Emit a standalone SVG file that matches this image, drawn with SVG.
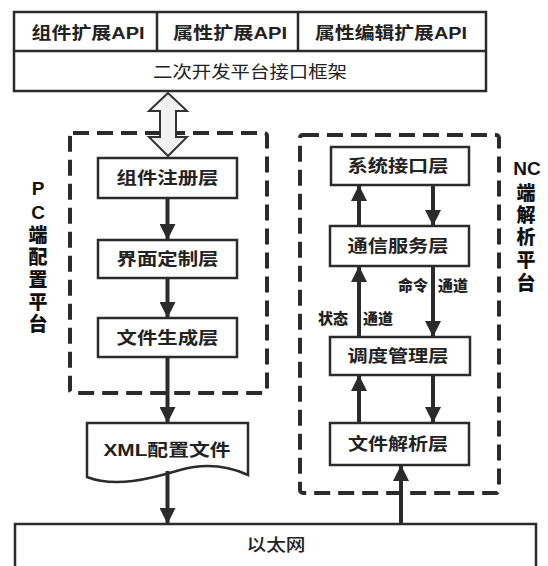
<svg xmlns="http://www.w3.org/2000/svg" width="548" height="566" viewBox="0 0 548 566">
<defs>
<style>
.box{fill:#fff;stroke:#2b2b2b;stroke-width:2.5}
.dash{fill:none;stroke:#2b2b2b;stroke-width:4;stroke-dasharray:16 8}
.ln{fill:none;stroke:#2b2b2b;stroke-width:4}
.t{font-family:"Liberation Sans","Noto Sans CJK SC",sans-serif;font-size:17px;fill:#222;text-anchor:middle;dominant-baseline:central}
.b{font-weight:bold}
.v{font-family:"Liberation Sans","Noto Sans CJK SC",sans-serif;font-size:19px;font-weight:900;fill:#111;text-anchor:middle;dominant-baseline:central}
.s{font-family:"Liberation Sans","Noto Sans CJK SC",sans-serif;font-size:15px;font-weight:900;fill:#222;dominant-baseline:central}
</style>
<marker id="ah" markerUnits="userSpaceOnUse" markerWidth="16" markerHeight="16" refX="16" refY="8" orient="auto">
<path d="M0,0 L16,8 L0,16 Z" fill="#2b2b2b"/>
</marker>
<linearGradient id="g" x1="0" y1="0" x2="1" y2="0">
<stop offset="0" stop-color="#ffffff"/>
<stop offset="0.5" stop-color="#efefef"/>
<stop offset="1" stop-color="#ffffff"/>
</linearGradient>
</defs>
<rect width="548" height="566" fill="#fff"/>

<g id="top-frame">
<rect class="box" x="14" y="12" width="472" height="79"/>
<line class="box" x1="14" y1="51" x2="486" y2="51"/>
<line class="box" x1="157" y1="12" x2="157" y2="51"/>
<line class="box" x1="298" y1="12" x2="298" y2="51"/>
<text class="t b" x="88" y="33" textLength="113" lengthAdjust="spacingAndGlyphs">组件扩展API</text>
<text class="t b" x="230" y="33" textLength="114" lengthAdjust="spacingAndGlyphs">属性扩展API</text>
<text class="t b" x="391" y="33" textLength="152" lengthAdjust="spacingAndGlyphs">属性编辑扩展API</text>
<text class="t" x="250" y="72" font-size="18" textLength="194" lengthAdjust="spacingAndGlyphs">二次开发平台接口框架</text>
</g>

<g id="pc-platform">
<rect class="dash" x="70" y="133" width="197" height="260" rx="3"/>
<g class="v">
<text x="38" y="188">P</text>
<text x="38" y="212">C</text>
<text x="38" y="235">端</text>
<text x="38" y="257">配</text>
<text x="38" y="280">置</text>
<text x="38" y="302">平</text>
<text x="38" y="324">台</text>
</g>
</g>

<g id="nc-platform">
<rect class="dash" x="300" y="135" width="199" height="358" rx="3"/>
<g class="v">
<text x="527" y="168">NC</text>
<text x="526" y="193">端</text>
<text x="526" y="215">解</text>
<text x="526" y="237">析</text>
<text x="526" y="260">平</text>
<text x="526" y="283">台</text>
</g>
</g>

<g id="n-zcc">
<rect class="box" x="98" y="158" width="139" height="40"/>
<text class="t b" x="167.5" y="178" textLength="102" lengthAdjust="spacingAndGlyphs">组件注册层</text>
</g>
<g id="n-jmdz">
<rect class="box" x="98" y="240" width="139" height="38"/>
<text class="t b" x="167.5" y="259" textLength="102" lengthAdjust="spacingAndGlyphs">界面定制层</text>
</g>
<g id="n-wjsc">
<rect class="box" x="98" y="318" width="139" height="39"/>
<text class="t b" x="167.5" y="338" textLength="102" lengthAdjust="spacingAndGlyphs">文件生成层</text>
</g>
<g id="n-xml">
<path class="box" d="M87,423 H248 V475 C228,466 205,463 180,470 C150,479 115,488 87,477 Z"/>
<text class="t b" x="167" y="450" textLength="127" lengthAdjust="spacingAndGlyphs">XML配置文件</text>
</g>

<g id="n-xtjk">
<rect class="box" x="331" y="147" width="138" height="38"/>
<text class="t b" x="398" y="166" textLength="101" lengthAdjust="spacingAndGlyphs">系统接口层</text>
</g>
<g id="n-txfw">
<rect class="box" x="330" y="226" width="139" height="40"/>
<text class="t b" x="398" y="246" textLength="101" lengthAdjust="spacingAndGlyphs">通信服务层</text>
</g>
<g id="n-ddgl">
<rect class="box" x="330" y="337" width="140" height="38"/>
<text class="t b" x="398" y="356" textLength="101" lengthAdjust="spacingAndGlyphs">调度管理层</text>
</g>
<g id="n-wjjx">
<rect class="box" x="330" y="423" width="139" height="42"/>
<text class="t b" x="398" y="444" textLength="100" lengthAdjust="spacingAndGlyphs">文件解析层</text>
</g>

<g id="n-eth">
<rect class="box" x="15" y="524" width="521" height="60"/>
<text class="t" x="276" y="545" font-size="18" font-weight="500" textLength="59" lengthAdjust="spacingAndGlyphs">以太网</text>
</g>

<g id="connectors">
<polygon points="168,93 187,111 176,111 176,137 187,137 168,156 149,137 160,137 160,111 149,111" fill="url(#g)" stroke="#333" stroke-width="2"/>
<line class="ln" x1="167.5" y1="198" x2="167.5" y2="240" marker-end="url(#ah)"/>
<line class="ln" x1="167.5" y1="278" x2="167.5" y2="318" marker-end="url(#ah)"/>
<line class="ln" x1="167.5" y1="357" x2="167.5" y2="423" marker-end="url(#ah)"/>
<line class="ln" x1="167.5" y1="471" x2="167.5" y2="524" marker-end="url(#ah)"/>

<line class="ln" x1="359" y1="226" x2="359" y2="185" marker-end="url(#ah)"/>
<line class="ln" x1="433" y1="185" x2="433" y2="226" marker-end="url(#ah)"/>
<line class="ln" x1="359" y1="337" x2="359" y2="266" marker-end="url(#ah)"/>
<line class="ln" x1="433" y1="266" x2="433" y2="337" marker-end="url(#ah)"/>
<line class="ln" x1="359" y1="423" x2="359" y2="375" marker-end="url(#ah)"/>
<line class="ln" x1="433" y1="375" x2="433" y2="423" marker-end="url(#ah)"/>
<line class="ln" x1="401" y1="524" x2="401" y2="465" marker-end="url(#ah)"/>

<text class="s" x="398" y="285">命令<tspan dx="10">通道</tspan></text>
<text class="s" x="318" y="318">状态<tspan dx="15">通道</tspan></text>
</g>
</svg>
